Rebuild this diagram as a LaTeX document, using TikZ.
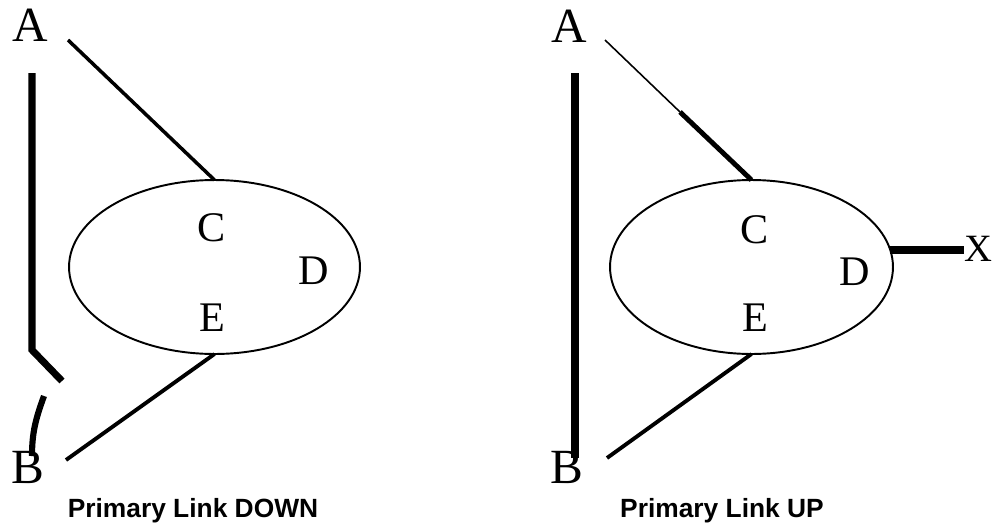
\documentclass[tikz,border=0pt]{standalone}
\usepackage{fontspec}
\setmainfont{Liberation Serif}
\newfontfamily\capfont{Liberation Sans}
\usepackage{tikz}
\usetikzlibrary{shapes.geometric}

\begin{document}
\begin{tikzpicture}[x=0.02cm, y=-0.02cm,
  letter/.style={inner sep=0pt, font=\fontsize{28}{28}\selectfont},
  inner/.style={inner sep=0pt, font=\fontsize{24}{24}\selectfont},
  caption/.style={inner sep=0pt, anchor=base, font=\capfont\bfseries\fontsize{15}{15}\selectfont},
  ring/.style={draw, ellipse, line width=1.1pt, inner sep=0pt, outer sep=0pt, minimum height=3.48cm},
  link/.style={line width=2pt},
  bus/.style={line width=4pt}]
\useasboundingbox (0,0) rectangle (993,524);
% primary link down
\node[letter] (A1) at (30,25) {A};
\node[letter] (B1) at (28,467) {B};
\node[ring, minimum width=5.82cm] (ring1) at (214.5,267) {};
\node[inner] (C1) at (212,228) {C};
\node[inner] (D1) at (314,271) {D};
\node[inner] (E1) at (212,318) {E};
\coordinate (a1) at (68,40);
\coordinate (b1) at (66,460);
\draw[link] (a1) -- (ring1.north);
\draw[link, line width=2.2pt] (b1) -- (ring1.south);
\coordinate (top1) at (32,73);
\coordinate (knee1) at (32,350);
\coordinate (tip1) at (62,381);
\coordinate (stub1) at (44,396);
\coordinate (bot1) at (32,456);
\draw[bus] (top1) -- (knee1) -- (tip1);
\draw[bus, line width=3.5pt] (stub1) to[out=-110, in=90] (bot1);
\node[caption] (cap1) at (193,517) {Primary Link DOWN};
% primary link up
\node[letter] (A2) at (569,26) {A};
\node[letter] (B2) at (567,467) {B};
\node[ring, minimum width=5.66cm] (ring2) at (751.5,267) {};
\node[inner] (C2) at (755,230) {C};
\node[inner] (D2) at (855,272) {D};
\node[inner] (E2) at (755,318) {E};
\node[inner, font=\fontsize{22}{22}\selectfont] (X2) at (978,249) {X};
\coordinate (a2) at (605,40);
\coordinate (m2) at (680,112);
\coordinate (b2) at (607,458);
\draw[line width=0.9pt] (a2) -- (m2);
\draw[line width=2.8pt] (m2) -- (ring2.north);
\draw[link, line width=2.2pt] (b2) -- (ring2.south);
\coordinate (top2) at (575,73);
\coordinate (bot2) at (575,458);
\draw[bus] (top2) -- (bot2);
\draw[line width=4.5pt] (ring2.7) -- (ring2.7 -| X2.west);
\node[caption] (cap2) at (722,517) {Primary Link UP};
\end{tikzpicture}
\end{document}
